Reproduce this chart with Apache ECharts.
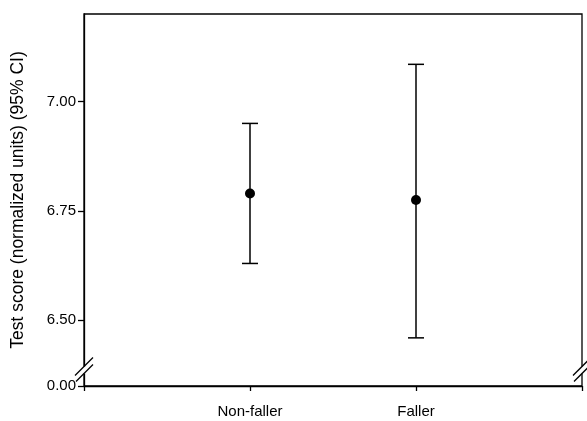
<!DOCTYPE html>
<html><head><meta charset="utf-8">
<script src="https://cdn.jsdelivr.net/npm/echarts@6/dist/echarts.min.js"></script>
<style>html,body{margin:0;padding:0;background:#fff}#c{width:587px;height:421px}</style>
</head><body><div id="c"></div>
<script>
// ---- data ----
const categories = ['Non-faller', 'Faller'];
const categoryPositions = [1, 2];
const means = [6.79, 6.775];
const ciLow = [6.63, 6.46];
const ciHigh = [6.95, 7.085];
// broken axis: the lowest tick (shown as 0.00) sits at the bottom of the plot
const yTickValues = [6.35, 6.5, 6.75, 7.0];
const yTickLabels = ['0.00', '6.50', '6.75', '7.00'];
const yAxisMin = 6.35, yAxisMax = 7.2;
const xAxisMin = 0, xAxisMax = 3;

const FONT = '"Liberation Sans", Arial, sans-serif';
const chart = echarts.init(document.getElementById('c'), null, {renderer: 'canvas'});

const meanData = categoryPositions.map((x, i) => [x, means[i]]);
const ciData = categoryPositions.map((x, i) => [x, ciLow[i], ciHigh[i]]);

chart.setOption({
  animation: false,
  backgroundColor: '#fff',
  grid: {left: 84, right: 5, top: 14, bottom: 35, containLabel: false, outerBoundsMode: 'none',
         show: true, borderColor: '#000', borderWidth: 1.3, backgroundColor: 'transparent'},
  xAxis: {
    type: 'value', min: xAxisMin, max: xAxisMax, interval: 1,
    axisLine: {show: true, lineStyle: {color: '#000', width: 1.3}},
    axisTick: {show: true, inside: false, length: 5, lineStyle: {color: '#000', width: 1.3}},
    splitLine: {show: false},
    axisLabel: {
      margin: 18, color: '#000', fontSize: 15, fontFamily: FONT,
      formatter: v => { const i = categoryPositions.indexOf(v); return i >= 0 ? categories[i] : ''; }
    }
  },
  yAxis: {
    type: 'value', min: yAxisMin, max: yAxisMax,
    name: 'Test score (normalized units) (95% CI)',
    nameLocation: 'middle', nameGap: 57,
    nameTextStyle: {color: '#000', fontSize: 17.5, fontFamily: FONT},
    axisLine: {show: true, lineStyle: {color: '#000', width: 1.3}},
    axisTick: {show: true, inside: false, length: 6, customValues: yTickValues, lineStyle: {color: '#000', width: 1.3}},
    splitLine: {show: false},
    axisLabel: {
      customValues: yTickValues, margin: 8, color: '#000', fontSize: 15, fontFamily: FONT,
      formatter: v => { const i = yTickValues.findIndex(t => Math.abs(t - v) < 1e-9); return i >= 0 ? yTickLabels[i] : ''; }
    }
  },
  series: [
    {
      type: 'custom',
      data: ciData,
      renderItem: function (params, api) {
        const x = api.value(0);
        const lo = api.coord([x, api.value(1)]);
        const hi = api.coord([x, api.value(2)]);
        const cap = 8;
        const style = {stroke: '#000', lineWidth: 1.5};
        return {
          type: 'group',
          children: [
            {type: 'line', shape: {x1: lo[0], y1: lo[1], x2: hi[0], y2: hi[1]}, style: style},
            {type: 'line', shape: {x1: lo[0] - cap, y1: lo[1], x2: lo[0] + cap, y2: lo[1]}, style: style},
            {type: 'line', shape: {x1: hi[0] - cap, y1: hi[1], x2: hi[0] + cap, y2: hi[1]}, style: style}
          ]
        };
      },
      z: 2
    },
    {
      type: 'scatter', data: meanData, symbol: 'circle', symbolSize: 10,
      itemStyle: {color: '#000', opacity: 1}, z: 3
    }
  ]
});

// axis-break marks on both vertical edges, placed from the axis scales
function drawBreaks() {
  const elements = [];
  [xAxisMin, xAxisMax].forEach(xv => {
    const p = chart.convertToPixel({gridIndex: 0}, [xv, yAxisMin]);
    const cx = p[0], cy = p[1] - 16;
    elements.push({type: 'rect', shape: {x: cx - 3, y: cy - 3.5, width: 6, height: 7}, style: {fill: '#fff'}, z: 100});
    elements.push({type: 'line', shape: {x1: cx - 9, y1: cy + 5.5, x2: cx + 9, y2: cy - 12.5}, style: {stroke: '#000', lineWidth: 1.3}, z: 101});
    elements.push({type: 'line', shape: {x1: cx - 8, y1: cy + 11.5, x2: cx + 9, y2: cy - 5.5}, style: {stroke: '#000', lineWidth: 1.3}, z: 101});
  });
  chart.setOption({graphic: {elements: elements}});
}
drawBreaks();
</script>
</body></html>
